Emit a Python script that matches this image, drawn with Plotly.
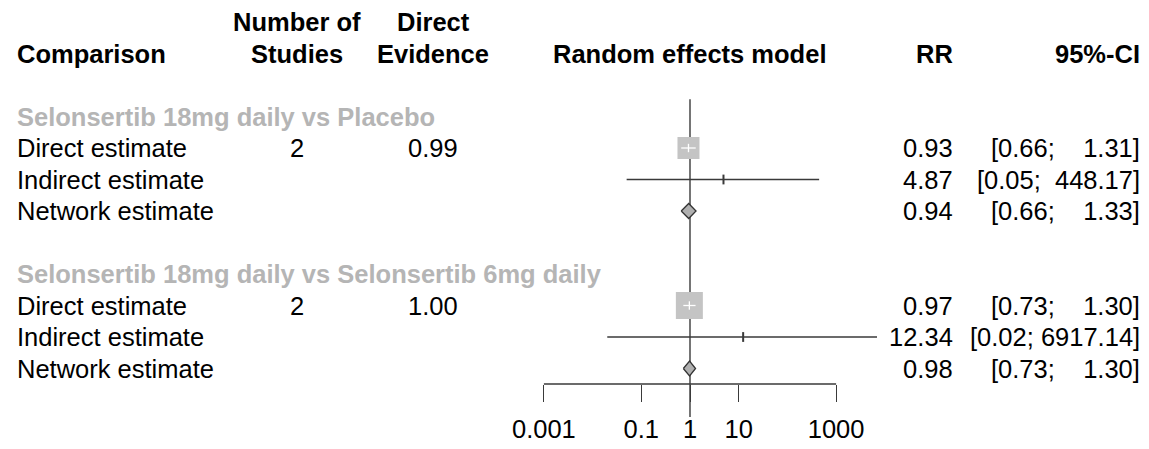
import plotly.graph_objects as go

# ---------------- data ----------------
groups = ["Selonsertib 18mg daily vs Placebo",
          "Selonsertib 18mg daily vs Selonsertib 6mg daily"]
row_labels = ["Direct estimate", "Indirect estimate", "Network estimate"]
n_studies = [2, 2]
direct_evidence = [0.99, 1.00]

rr_direct = [0.93, 0.97]
lo_direct = [0.66, 0.73]
hi_direct = [1.31, 1.30]

rr_indirect = [4.87, 12.34]
lo_indirect = [0.05, 0.02]
hi_indirect = [448.17, 6917.14]

rr_network = [0.94, 0.98]
lo_network = [0.66, 0.73]
hi_network = [1.33, 1.30]

tick_vals = [0.001, 0.1, 1, 10, 1000]
tick_text = ["0.001", "0.1", "1", "10", "1000"]

# ---------------- layout helpers ----------------
W, H = 1149, 449
ROW0_PX, ROW_H = 116.5, 31.5          # pixel centre of first group row, row spacing
X1_PX, DEC_PX = 690.0, 48.7           # pixel of RR=1, pixels per decade
XDOM_PX = (500, 900)

def pxx(p):
    return p / W

FONT = "Liberation Sans, Arial, Helvetica, sans-serif"
FS = 25.5
LINE_COL = "#3a3a3a"
LW = 1.4

fig = go.Figure()

def group_rows(g):
    base = g * 5
    return base, base + 1, base + 2, base + 3

# reference line at RR = 1
fig.add_trace(go.Scatter(x=[1, 1], y=[-0.55, 9.54], mode="lines",
                         line=dict(color=LINE_COL, width=LW),
                         hoverinfo="skip", showlegend=False))
# axis line spanning the tick range
fig.add_trace(go.Scatter(x=[tick_vals[0], tick_vals[-1]],
                         y=[(384 - ROW0_PX) / ROW_H] * 2, mode="lines",
                         line=dict(color=LINE_COL, width=LW),
                         hoverinfo="skip", showlegend=False))

for g in range(len(groups)):
    rg, rd, ri, rn = group_rows(g)
    # indirect estimate CI line + small mark
    fig.add_trace(go.Scatter(x=[lo_indirect[g], hi_indirect[g]], y=[ri, ri],
                             mode="lines", line=dict(color=LINE_COL, width=LW),
                             hoverinfo="skip", showlegend=False))
    fig.add_trace(go.Scatter(x=[rr_indirect[g]], y=[ri], mode="markers",
                             marker=dict(symbol="line-ns", size=7,
                                         line=dict(color=LINE_COL, width=2)),
                             hoverinfo="skip", showlegend=False))
    # direct estimate square
    fig.add_trace(go.Scatter(x=[rr_direct[g]], y=[rd], mode="markers",
                             marker=dict(symbol="square", size=[22, 27][g],
                                         color="#c4c4c4", line=dict(width=0)),
                             hoverinfo="skip", showlegend=False))
    fig.add_trace(go.Scatter(x=[lo_direct[g], hi_direct[g]], y=[rd, rd],
                             mode="lines", line=dict(color="white", width=1.3),
                             hoverinfo="skip", showlegend=False))
    fig.add_trace(go.Scatter(x=[rr_direct[g]], y=[rd], mode="markers",
                             marker=dict(symbol="line-ns", size=6,
                                         line=dict(color="white", width=1.3)),
                             hoverinfo="skip", showlegend=False))
    # network estimate diamond
    h = 7.5 / ROW_H
    fig.add_trace(go.Scatter(
        x=[lo_network[g], rr_network[g], hi_network[g], rr_network[g], lo_network[g]],
        y=[rn, rn - h, rn, rn + h, rn], mode="lines", fill="toself",
        fillcolor="#b0b0b0", line=dict(color="#333333", width=1.3),
        hoverinfo="skip", showlegend=False))

# ---------------- text columns ----------------
ann = []

def txt(text, xp, row, anchor, bold=False, color="black"):
    t = f"<b>{text}</b>" if bold else text
    ann.append(dict(text=t, x=pxx(xp), xref="paper", y=row, yref="y",
                    xanchor=anchor, yanchor="middle", showarrow=False,
                    font=dict(family=FONT, size=FS, color=color)))

# headers
txt("Comparison", 15, -2, "left", bold=True)
txt("Number of", 297, -3, "center", bold=True)
txt("Studies", 297, -2, "center", bold=True)
txt("Direct", 433, -3, "center", bold=True)
txt("Evidence", 433, -2, "center", bold=True)
txt("Random effects model", 689, -2, "center", bold=True)
txt("RR", 955, -2, "right", bold=True)
txt("95%-CI", 1142, -2, "right", bold=True)

NB = "\u00a0"
all_hi = hi_direct + hi_indirect + hi_network
w_hi = max(len(f"{v:.2f}") for v in all_hi)

def ci_str(lo, hi):
    s_hi = f"{hi:.2f}"
    return f"[{lo:.2f};{NB}{NB * (w_hi - len(s_hi))}{s_hi}]"

for g, name in enumerate(groups):
    rg, rd, ri, rn = group_rows(g)
    txt(name, 15, rg, "left", bold=True, color="#b5b5b5")
    for r, lab in zip((rd, ri, rn), row_labels):
        txt(lab, 15, r, "left")
    txt(str(n_studies[g]), 297, rd, "center")
    txt(f"{direct_evidence[g]:.2f}", 433, rd, "center")
    for r, est, lo, hi in ((rd, rr_direct[g], lo_direct[g], hi_direct[g]),
                           (ri, rr_indirect[g], lo_indirect[g], hi_indirect[g]),
                           (rn, rr_network[g], lo_network[g], hi_network[g])):
        txt(f"{est:.2f}", 955, r, "right")
        txt(ci_str(lo, hi), 1142, r, "right")

fig.update_layout(
    width=W, height=H,
    margin=dict(l=0, r=0, t=0, b=0),
    paper_bgcolor="white", plot_bgcolor="white",
    showlegend=False,
    annotations=ann,
    xaxis=dict(type="log",
               domain=[pxx(XDOM_PX[0]), pxx(XDOM_PX[1])],
               range=[(XDOM_PX[0] - X1_PX) / DEC_PX, (XDOM_PX[1] - X1_PX) / DEC_PX],
               tickvals=tick_vals, ticktext=tick_text,
               ticks="outside", ticklen=17, tickwidth=LW, tickcolor=LINE_COL,
               showline=False, showgrid=False, zeroline=False,
               anchor="free", position=1 - 384 / H, side="bottom",
               ticklabelstandoff=5,
               tickfont=dict(family=FONT, size=FS, color="black"),
               automargin=False, fixedrange=True),
    yaxis=dict(range=[(H - ROW0_PX) / ROW_H, -ROW0_PX / ROW_H],
               domain=[0, 1], visible=False, showgrid=False, zeroline=False,
               automargin=False, fixedrange=True),
)

fig.write_html("out.html", config={"displayModeBar": False},
               post_script="document.body.style.margin='0';"
                           "document.body.style.overflow='hidden';")
